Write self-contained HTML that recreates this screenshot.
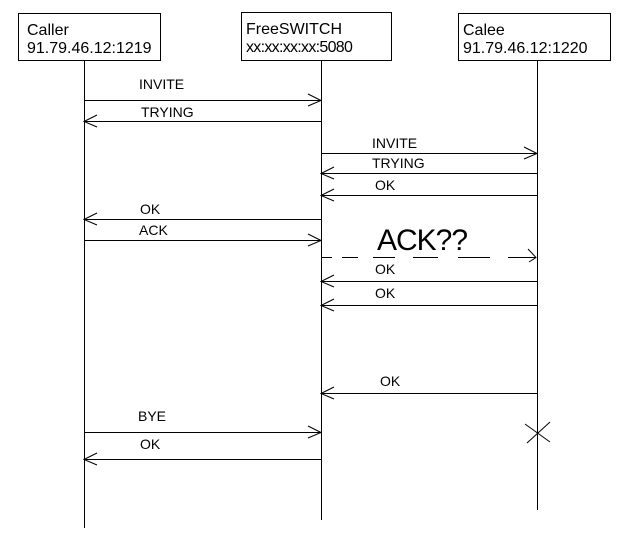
<!DOCTYPE html>
<html><head><meta charset="utf-8"><style>
html,body{margin:0;padding:0;background:#fff;}
svg{display:block;}
text{font-family:"Liberation Sans",sans-serif;font-size:14px;fill:#000;}
.b{font-size:16px;}
</style></head><body>
<svg width="622" height="539" viewBox="0 0 622 539" xmlns="http://www.w3.org/2000/svg">
<g fill="none" stroke="#000" stroke-width="1" shape-rendering="crispEdges">
<rect x="18.5" y="13.5" width="142" height="47"/>
<rect x="241.5" y="12.5" width="150" height="48"/>
<rect x="458.5" y="13.5" width="152" height="47"/>
<line x1="84.5" y1="61" x2="84.5" y2="528"/>
<line x1="321.5" y1="61" x2="321.5" y2="520"/>
<line x1="537.5" y1="61" x2="537.5" y2="510"/>
<line x1="84" y1="100.5" x2="321" y2="100.5"/>
<line x1="321" y1="153.5" x2="537" y2="153.5"/>
<line x1="84" y1="240.5" x2="321" y2="240.5"/>
<line x1="84" y1="432.5" x2="321" y2="432.5"/>
<line x1="84" y1="121.5" x2="321" y2="121.5"/>
<line x1="321" y1="173.5" x2="537" y2="173.5"/>
<line x1="321" y1="195.5" x2="537" y2="195.5"/>
<line x1="84" y1="219.5" x2="321" y2="219.5"/>
<line x1="321" y1="281.5" x2="537" y2="281.5"/>
<line x1="321" y1="305.5" x2="537" y2="305.5"/>
<line x1="321" y1="393.5" x2="537" y2="393.5"/>
<line x1="84" y1="459.5" x2="321" y2="459.5"/>
</g>
<g fill="none" stroke="#000" stroke-width="1">
<path d="M308 94 L321 100.5 L308 106"/>
<path d="M524 147 L537 153.5 L524 159"/>
<path d="M308 234 L321 240.5 L308 246"/>
<path d="M308 426 L321 432.5 L308 438"/>
<path d="M97 115 L84 121.5 L97 127"/>
<path d="M334 167 L321 173.5 L334 179"/>
<path d="M334 189 L321 195.5 L334 201"/>
<path d="M97 213 L84 219.5 L97 225"/>
<path d="M334 275 L321 281.5 L334 287"/>
<path d="M334 299 L321 305.5 L334 311"/>
<path d="M334 387 L321 393.5 L334 399"/>
<path d="M97 453 L84 459.5 L97 465"/>
<path d="M321 257.5 H332 M342 257.5 H358 M373 257.5 H395 M413 257.5 H438 M458 257.5 H490 M508 257.5 H536"/>
<path d="M528 249 L536 257.5 L529 262"/>
<path d="M525 424 L550 442 M527 443 L550 422"/>
</g>
<text class="b" x="27" y="35">Caller</text>
<text class="b" x="27" y="53">91.79.46.12:1219</text>
<text class="b" x="246" y="34">FreeSWITCH</text>
<text class="b" x="246" y="52" style="letter-spacing:-0.7px">xx:xx:xx:xx:5080</text>
<text class="b" x="463" y="35">Calee</text>
<text class="b" x="463" y="53">91.79.46.12:1220</text>
<text x="139" y="89">INVITE</text>
<text x="141" y="117">TRYING</text>
<text x="372" y="148">INVITE</text>
<text x="372" y="168">TRYING</text>
<text x="375" y="190">OK</text>
<text x="140" y="214">OK</text>
<text x="139" y="235">ACK</text>
<text x="377" y="250" style="font-size:30px;letter-spacing:-1px">ACK??</text>
<text x="375" y="274">OK</text>
<text x="375" y="298">OK</text>
<text x="380" y="386">OK</text>
<text x="138" y="421">BYE</text>
<text x="140" y="449">OK</text>
</svg>
</body></html>
